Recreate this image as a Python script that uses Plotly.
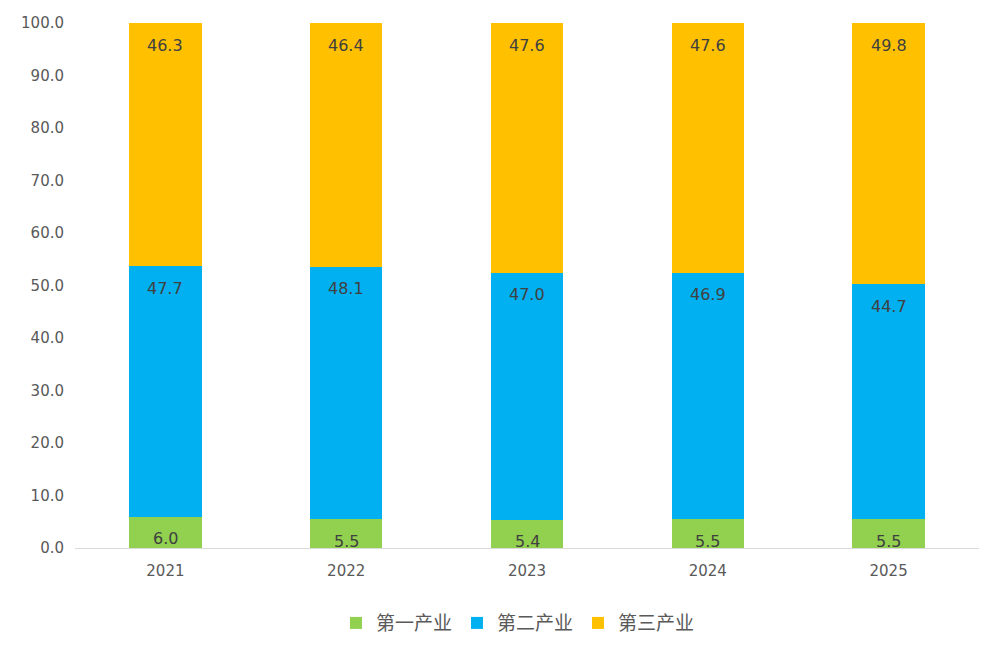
import plotly.graph_objects as go

years = ["2021", "2022", "2023", "2024", "2025"]
primary = [6.0, 5.5, 5.4, 5.5, 5.5]
secondary = [47.7, 48.1, 47.0, 46.9, 44.7]
tertiary = [46.3, 46.4, 47.6, 47.6, 49.8]

series = [
    ("第一产业", primary, "#92D050"),
    ("第二产业", secondary, "#00B0F0"),
    ("第三产业", tertiary, "#FFC000"),
]

fig = go.Figure()
base = [0.0] * len(years)
for name, vals, color in series:
    fig.add_trace(go.Bar(
        x=years, y=vals, name=name,
        marker=dict(color=color, line=dict(width=0)),
    ))
    # value labels sit just under the top of each segment, like Excel's "inside end"
    # (category index is used for x: numeric-looking year strings get read as numbers)
    for i, (b, v) in enumerate(zip(base, vals)):
        fig.add_annotation(
            x=i, y=b + v, text=f"{v:.1f}", showarrow=False,
            yanchor="middle", yshift=-22,
            font=dict(size=16, color="#404040"),
        )
    base = [b + v for b, v in zip(base, vals)]

fig.update_layout(
    barmode="stack",
    bargap=0.6,
    width=1005, height=650,
    margin=dict(l=67, r=34, t=15, b=110),
    paper_bgcolor="white", plot_bgcolor="white",
    font=dict(family="DejaVu Sans, Liberation Sans, Noto Sans CJK SC, sans-serif", color="#595959"),
    showlegend=True,
    legend=dict(orientation="h", x=0.49, xanchor="center", y=-0.143, yanchor="middle",
                font=dict(size=19, family="Noto Sans CJK SC, sans-serif", color="#595959"),
                itemwidth=30, traceorder="normal"),
    xaxis=dict(type="category", showline=True, linecolor="#D9D9D9", linewidth=1, ticks="",
               ticklabelstandoff=9, automargin=False,
               tickfont=dict(size=15, color="#595959"), showgrid=False),
    yaxis=dict(range=[0, 100], dtick=10, tickformat=".1f", showgrid=False,
               zeroline=False, showline=False, ticks="", ticklabelstandoff=10,
               automargin=False,
               tickfont=dict(size=15, color="#595959")),
)

fig.write_html("out.html")
